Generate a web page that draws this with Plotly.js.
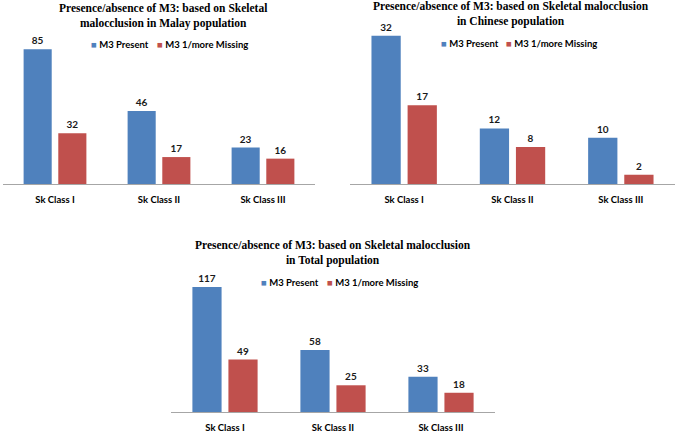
<!DOCTYPE html>
<html>
<head>
<meta charset="utf-8">
<script src="https://cdn.plot.ly/plotly-3.0.1.min.js"></script>
<style>
  html, body { margin: 0; padding: 0; background: #fff; }
  #chart { width: 678px; height: 435px; }
</style>
</head>
<body>
<div id="chart"></div>
<script>
// M3 presence/absence by skeletal class, three populations

// ------------------- Data -------------------
var classes = ['Sk Class I', 'Sk Class II', 'Sk Class III'];
var seriesNames = ['M3 Present', 'M3 1/more Missing'];

var malayPresent = [85, 46, 23];
var malayMissing = [32, 17, 16];

var chinesePresent = [32, 12, 10];
var chineseMissing = [17, 8, 2];

var totalPresent = [117, 58, 33];
var totalMissing = [49, 25, 18];

var titles = [
    'Presence/absence of M3: based on Skeletal<br>malocclusion in Malay population',
    'Presence/absence of M3: based on Skeletal malocclusion<br>in Chinese population',
    'Presence/absence of M3: based on Skeletal malocclusion<br>in Total population'
];

// ------------------- Helpers -------------------
var W = 678, H = 435;
var blue = '#4F81BD';
var red = '#C0504D';
var sans = 'Lato, "Liberation Sans", sans-serif';
var labelFont = {family: sans, size: 10, color: '#1a1a1a', weight: 700};

function px(x) { return x / W; }
function py(y) { return 1 - y / H; }

function makeBar(name, values, color, n) {
    var suffix = n === 1 ? '' : String(n);
    return {
        type: 'bar',
        name: name,
        x: classes,
        y: values,
        xaxis: 'x' + suffix,
        yaxis: 'y' + suffix,
        showlegend: false,
        marker: {color: color},
        text: values.map(String),
        textposition: 'outside',
        textfont: labelFont,
        cliponaxis: false,
        hoverinfo: 'x+y'
    };
}

function xAxis(x0, x1, anchor) {
    return {
        domain: [px(x0), px(x1)],
        anchor: anchor,
        showline: true,
        linecolor: '#a6a6a6',
        linewidth: 1,
        showgrid: false,
        zeroline: false,
        tickmode: 'array',
        tickvals: classes,
        ticktext: classes.map(function(c) { return '<b>' + c + '</b>'; }),
        ticks: 'outside',
        ticklen: 7,
        tickcolor: 'rgba(0,0,0,0)',
        tickfont: {family: sans, size: 9.5, color: '#000'},
        fixedrange: true
    };
}

function yAxis(top, bottom, scale, anchor) {
    return {
        domain: [py(bottom), py(top)],
        anchor: anchor,
        range: [0, (bottom - top) / scale],
        visible: false,
        showgrid: false,
        zeroline: false,
        fixedrange: true
    };
}

// legend entry: coloured square + series name, left anchored
function legendItem(name, color, x, y) {
    return {
        text: '<span style="color:' + color + '">\u25A0</span>\u00a0<b>' + name + '</b>',
        xref: 'paper', yref: 'paper',
        x: px(x), y: py(y),
        xanchor: 'left', yanchor: 'middle',
        showarrow: false,
        font: {family: sans, size: 9.5, color: '#000'}
    };
}

function titleNote(text, cx, cy) {
    return {
        text: '<b>' + text.replace('<br>', '</b><br><b>') + '</b>',
        xref: 'paper', yref: 'paper',
        x: px(cx), y: py(cy),
        xanchor: 'center', yanchor: 'middle',
        showarrow: false,
        align: 'center',
        font: {family: '"Liberation Serif", "Times New Roman", serif', size: 11.5, color: '#000'}
    };
}

// ------------------- Build -------------------
var data = [
    makeBar(seriesNames[0], malayPresent, blue, 1),
    makeBar(seriesNames[1], malayMissing, red, 1),
    makeBar(seriesNames[0], chinesePresent, blue, 2),
    makeBar(seriesNames[1], chineseMissing, red, 2),
    makeBar(seriesNames[0], totalPresent, blue, 3),
    makeBar(seriesNames[1], totalMissing, red, 3)
];

var layout = {
    width: W,
    height: H,
    margin: {l: 0, r: 0, t: 0, b: 0},
    paper_bgcolor: '#fff',
    plot_bgcolor: 'rgba(0,0,0,0)',
    barmode: 'group',
    bargap: 0.333,
    bargroupgap: 0.19,
    showlegend: false,
    xaxis: xAxis(3, 315, 'y'),
    yaxis: yAxis(30, 184, 1.585, 'x'),
    xaxis2: xAxis(350, 675, 'y2'),
    yaxis2: yAxis(30, 184, 4.63, 'x2'),
    xaxis3: xAxis(171, 495, 'y3'),
    yaxis3: yAxis(270, 412, 1.069, 'x3'),
    annotations: [
        titleNote(titles[0], 163, 15.5),
        titleNote(titles[1], 511, 14.5),
        titleNote(titles[2], 333, 252.5),
        legendItem(seriesNames[0], blue, 89, 44),
        legendItem(seriesNames[1], red, 155, 44),
        legendItem(seriesNames[0], blue, 439, 43),
        legendItem(seriesNames[1], red, 504, 43),
        legendItem(seriesNames[0], blue, 259, 282),
        legendItem(seriesNames[1], red, 325, 282)
    ]
};

Plotly.newPlot('chart', data, layout, {displayModeBar: false, staticPlot: true});
</script>
</body>
</html>
